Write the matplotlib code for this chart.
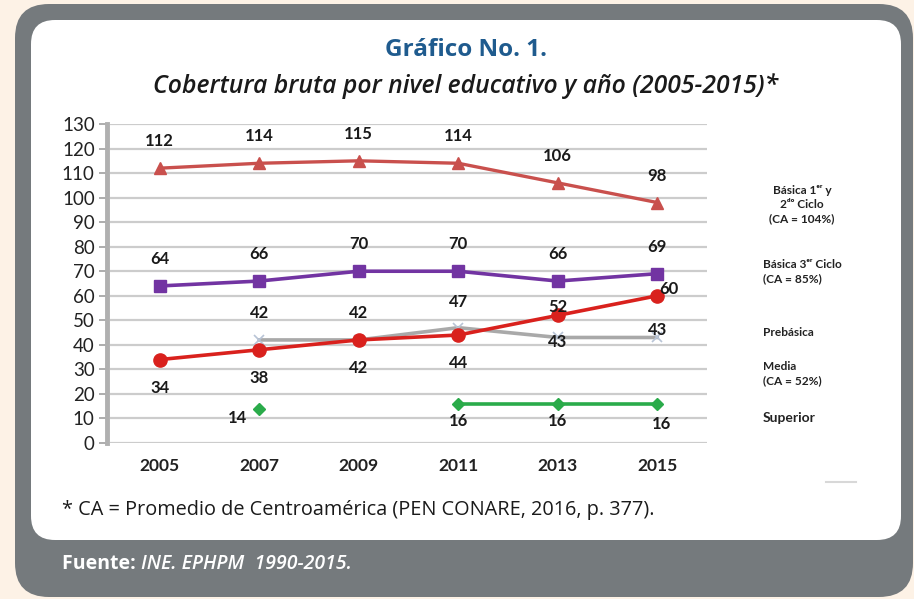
import matplotlib.pyplot as plt
from matplotlib.patches import FancyBboxPatch
import numpy as np

# Data
years = ["2005", "2007", "2009", "2011", "2013", "2015"]
basica_12 = [112, 114, 115, 114, 106, 98]
basica_3 = [64, 66, 70, 70, 66, 69]
prebasica = [np.nan, 42, 42, 47, 43, 43]
media = [34, 38, 42, 44, 52, 60]
superior = [np.nan, 14, np.nan, 16, 16, 16]

legend_texts = ["Básica 1ᵉʳ y\n2ᵈᵒ Ciclo\n(CA = 104%)",
                "Básica 3ᵉʳ Ciclo\n(CA = 85%)",
                "Prebásica",
                "Media\n(CA = 52%)",
                "Superior"]

W, H = 914, 599
fig = plt.figure(figsize=(W / 100, H / 100), dpi=100)
fig.patch.set_facecolor("#fdf2e6")

# background frame drawn in pixel coordinates
bg = fig.add_axes([0, 0, 1, 1])
bg.set_xlim(0, W)
bg.set_ylim(H, 0)
bg.axis("off")
bg.add_patch(FancyBboxPatch((15 + 34, 4 + 34), 898 - 68, 593 - 68,
                            boxstyle="round,pad=34", fc="#757a7d", ec="none"))
bg.add_patch(FancyBboxPatch((31 + 24, 20 + 24), 870 - 48, 520 - 48,
                            boxstyle="round,pad=24", fc="white", ec="none"))
bg.plot([826, 856], [482, 482], color="#d8d8d8", lw=1.5)

fig.text(466 / W, 1 - 50 / H, "Gráfico No. 1.", ha="center", va="center",
         fontsize=17.5, fontweight="bold", color="#1f5b8e", family="Open Sans")
fig.text(466 / W, 1 - 86 / H, "Cobertura bruta por nivel educativo y año (2005-2015)*",
         ha="center", va="center", fontsize=17.8, fontweight="semibold",
         style="italic", color="#1a1a1a", family="Open Sans")

# chart
ax = fig.add_axes([110 / W, 1 - 443 / H, 597 / W, 319 / H])
ax.set_facecolor("none")
x = np.arange(len(years))
ax.set_xlim(-0.5, 5.5)
ax.set_ylim(0, 130)
ax.set_yticks(range(0, 131, 10))
ax.set_xticks(x)
ax.set_xticklabels(years, fontweight="bold")
ax.grid(axis="y", color="#cccccc", lw=1.6)
ax.set_axisbelow(True)
for s in ["top", "right", "bottom"]:
    ax.spines[s].set_visible(False)
ax.spines["left"].set_color("#b0b0b0")
ax.spines["left"].set_linewidth(3.5)
ax.spines["left"].set_position(("outward", 2))
ax.tick_params(axis="y", length=6, width=1.2, color="#a0a0a0", pad=3,
               labelsize=13.5, labelcolor="#222222")
ax.tick_params(axis="x", length=0, pad=11, labelsize=12.5, labelcolor="#222222")
for lab in ax.get_yticklabels() + ax.get_xticklabels():
    lab.set_family("Lato")

ax.plot(x, basica_12, color="#c9504d", lw=2.4, marker="^", ms=9, zorder=3)
ax.plot(x, basica_3, color="#7234a2", lw=2.6, marker="s", ms=8, zorder=3)
ax.plot(x, prebasica, color="#a9a9a9", lw=2.6, marker="x", ms=7,
        mec="#b8c4d6", mew=1.2, zorder=2)
ax.plot(x, media, color="#d9211d", lw=2.6, marker="o", ms=9.5, zorder=4)
ax.plot(x, superior, color="#2aab4a", lw=2.6, marker="D", ms=6.5, zorder=3)

lab_kw = dict(ha="center", va="center", fontsize=12, fontweight="bold",
              color="#1a1a1a", family="Lato", textcoords="offset pixels", zorder=5)

for i, v in enumerate(basica_12):
    ax.annotate(str(v), (x[i], v), xytext=(0, 27), **lab_kw)
for i, v in enumerate(basica_3):
    ax.annotate(str(v), (x[i], v), xytext=(0, 27), **lab_kw)
pre_off = [None, (0, 27), (0, 27), (0, 26), (0, -5), (0, 7)]
for i, v in enumerate(prebasica):
    if not np.isnan(v):
        ax.annotate(str(int(v)), (x[i], v), xytext=pre_off[i], **lab_kw)
media_off = [(0, -28), (0, -28), (0, -28), (0, -28), (0, 8), (12, 7)]
for i, v in enumerate(media):
    ax.annotate(str(v), (x[i], v), xytext=media_off[i], **lab_kw)
sup_off = [None, (-22, -9), None, (0, -17), (0, -17), (4, -20)]
for i, v in enumerate(superior):
    if not np.isnan(v):
        ax.annotate(str(int(v)), (x[i], v), xytext=sup_off[i], **lab_kw)

# legend texts (no keys in the original)
leg_pos = [(802, 205, "center"), (763, 272, "left"), (763, 333, "left"),
           (763, 374, "left"), (763, 418, "left")]
leg_size = [8.6, 8.6, 8.6, 8.6, 10]
for txt, (px, py, al), fs in zip(legend_texts, leg_pos, leg_size):
    fig.text(px / W, 1 - py / H, txt, ha="center" if al == "center" else "left",
             va="center", multialignment=al, fontsize=fs, fontweight="bold",
             color="#222222", family=["Lato", "DejaVu Sans"], linespacing=1.35)

fig.text(62 / W, 1 - 510 / H, "* CA = Promedio de Centroamérica (PEN CONARE, 2016, p. 377).",
         ha="left", va="center", fontsize=14.3, color="#1a1a1a", family="Open Sans")
t1 = fig.text(62 / W, 1 - 564 / H, "Fuente: ", ha="left", va="center", fontsize=14,
              fontweight="bold", color="white", family="Open Sans")
fig.canvas.draw()
bb = t1.get_window_extent()
fig.text(bb.x1 / W, 1 - 564 / H, "INE. EPHPM  1990-2015.", ha="left", va="center",
         fontsize=14, style="italic", fontweight="semibold", color="white",
         family="Open Sans")

fig.savefig("out.png", dpi=100, facecolor=fig.get_facecolor())
